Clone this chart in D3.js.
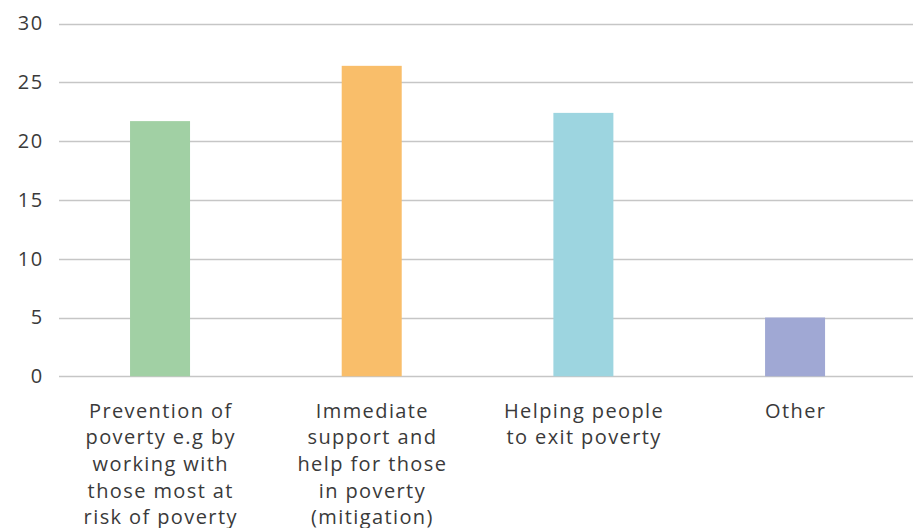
<!DOCTYPE html>
<html>
<head>
<meta charset="utf-8">
<script src="https://cdn.jsdelivr.net/npm/d3@7"></script>
<style>
  html, body { margin: 0; padding: 0; background: #ffffff; }
  svg { display: block; }
  text { font-family: "Open Sans", "Noto Sans", sans-serif; fill: #3a3a3a; }
</style>
</head>
<body>
<svg id="chart" width="913" height="528"></svg>
<script>
// Categories (label lines as they wrap under each bar)
const categories = [
  "Prevention of poverty e.g by working with those most at risk of poverty",
  "Immediate support and help for those in poverty (mitigation)",
  "Helping people to exit poverty",
  "Other"
];
const categoryLines = [
  ["Prevention of", "poverty e.g by", "working with", "those most at", "risk of poverty"],
  ["Immediate", "support and", "help for those", "in poverty", "(mitigation)"],
  ["Helping people", "to exit poverty"],
  ["Other"]
];
const values = [21.7, 26.4, 22.4, 5.0];
const colors = ["#a1d0a4", "#f9be6a", "#9dd5e0", "#a0a8d4"];
const yTicks = [0, 5, 10, 15, 20, 25, 30];

const svg = d3.select("#chart");

const y = d3.scaleLinear().domain([0, 30]).range([376.3, 23.5]);
const x = d3.scaleBand().domain(categories).range([54.2, 900.9]).padding(0);
const barWidth = 60;
const fontSize = 20;
const spacing = 1.4;

// Horizontal gridlines
svg.append("g")
  .selectAll("line")
  .data(yTicks)
  .join("line")
  .attr("x1", 59)
  .attr("x2", 913)
  .attr("y1", d => Math.round(y(d)) + 0.5)
  .attr("y2", d => Math.round(y(d)) + 0.5)
  .attr("stroke", "#c6c6c6")
  .attr("stroke-width", 1.3);

// Y axis labels
const yAxis = d3.axisLeft(y).tickValues(yTicks).tickSize(0).tickPadding(0);
const yg = svg.append("g").attr("transform", "translate(43.5,0)").call(yAxis);
yg.select(".domain").remove();
yg.selectAll("text")
  .attr("font-size", fontSize)
  .attr("fill", "#3a3a3a")
  .style("letter-spacing", spacing + "px")
  .style("font-family", "'Open Sans', sans-serif");

// Bars
svg.append("g")
  .selectAll("rect")
  .data(categories)
  .join("rect")
  .attr("x", d => x(d) + x.bandwidth() / 2 - barWidth / 2)
  .attr("width", barWidth)
  .attr("y", (d, i) => y(values[i]))
  .attr("height", (d, i) => y(0) - y(values[i]))
  .attr("fill", (d, i) => colors[i]);

// Category labels
const labels = svg.append("g")
  .selectAll("text")
  .data(categories)
  .join("text")
  .attr("text-anchor", "middle")
  .attr("font-size", fontSize)
  .style("letter-spacing", spacing + "px")
  .attr("x", d => x(d) + x.bandwidth() / 2 + spacing / 2)
  .attr("y", 410.5);

labels.selectAll("tspan")
  .data((d, i) => categoryLines[i])
  .join("tspan")
  .attr("x", function () { return d3.select(this.parentNode).attr("x"); })
  .attr("dy", (d, j) => j === 0 ? "0.35em" : "26.7px")
  .text(d => d);
</script>
</body>
</html>
